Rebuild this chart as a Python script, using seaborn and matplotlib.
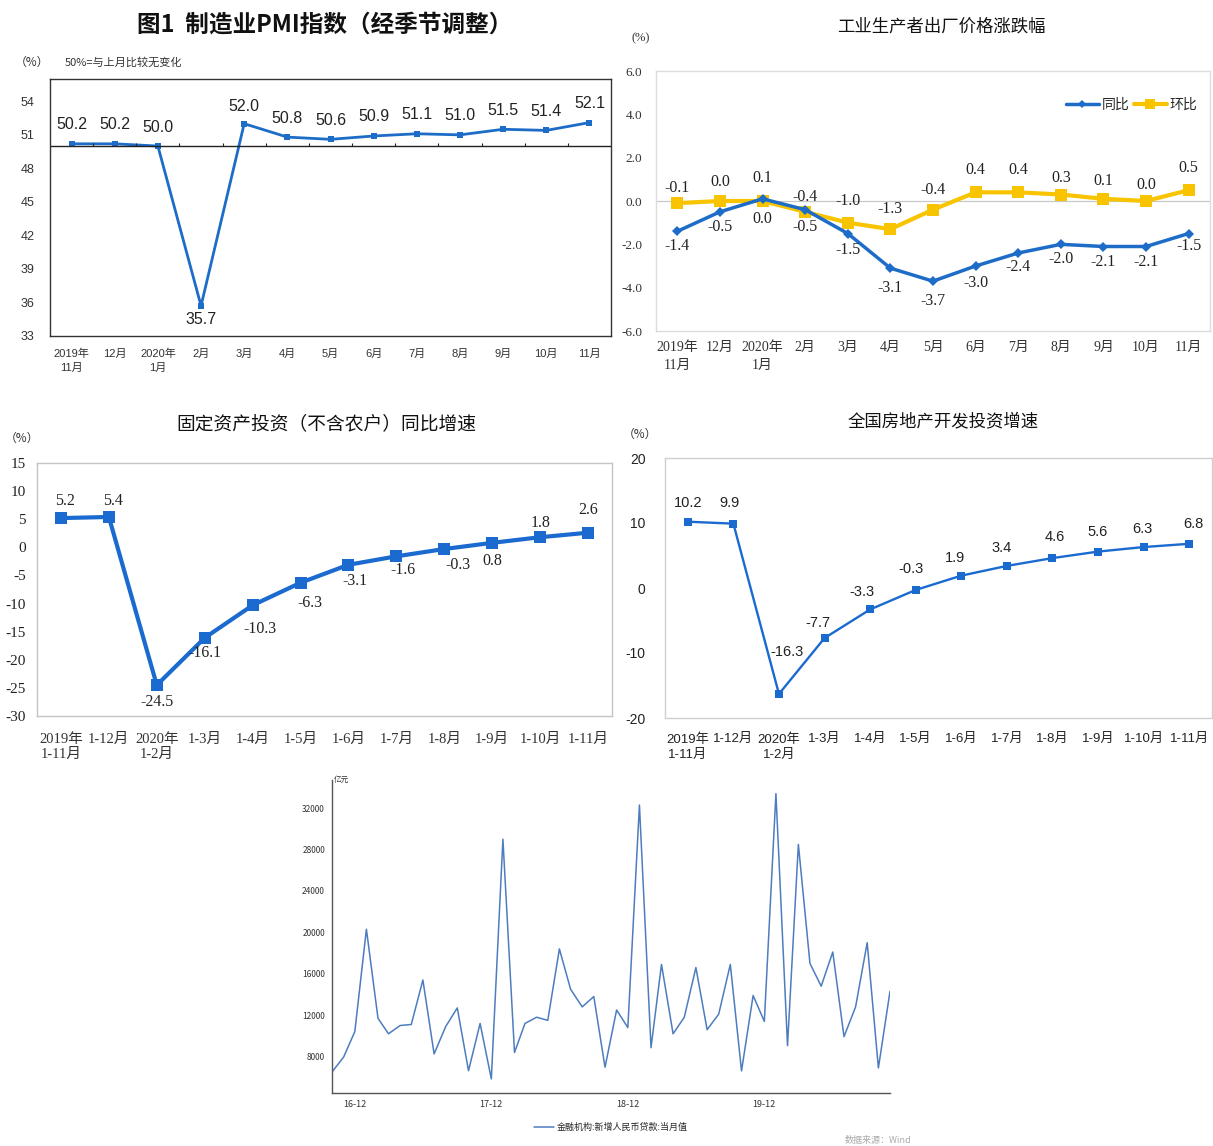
import numpy as np
import pandas as pd
import matplotlib
matplotlib.use("Agg")
import matplotlib.pyplot as plt
import matplotlib.dates as mdates
from matplotlib.lines import Line2D
from matplotlib.ticker import FixedLocator, FuncFormatter
import seaborn as sns

# ---------------- data ----------------
pmi_months = ["2019年\n11月", "12月", "2020年\n1月", "2月", "3月", "4月", "5月",
              "6月", "7月", "8月", "9月", "10月", "11月"]
pmi_values = [50.2, 50.2, 50.0, 35.7, 52.0, 50.8, 50.6, 50.9, 51.1, 51.0, 51.5, 51.4, 52.1]

ppi_months = ["2019年\n11月", "12月", "2020年\n1月", "2月", "3月", "4月", "5月",
              "6月", "7月", "8月", "9月", "10月", "11月"]
ppi_yoy = [-1.4, -0.5, 0.1, -0.4, -1.5, -3.1, -3.7, -3.0, -2.4, -2.0, -2.1, -2.1, -1.5]
ppi_mom = [-0.1, 0.0, 0.0, -0.5, -1.0, -1.3, -0.4, 0.4, 0.4, 0.3, 0.1, 0.0, 0.5]

fai_periods = ["2019年\n1-11月", "1-12月", "2020年\n1-2月", "1-3月", "1-4月", "1-5月",
               "1-6月", "1-7月", "1-8月", "1-9月", "1-10月", "1-11月"]
fai_values = [5.2, 5.4, -24.5, -16.1, -10.3, -6.3, -3.1, -1.6, -0.3, 0.8, 1.8, 2.6]

re_periods = ["2019年\n1-11月", "1-12月", "2020年\n1-2月", "1-3月", "1-4月", "1-5月",
              "1-6月", "1-7月", "1-8月", "1-9月", "1-10月", "1-11月"]
re_values = [10.2, 9.9, -16.3, -7.7, -3.3, -0.3, 1.9, 3.4, 4.6, 5.6, 6.3, 6.8]

loan_start = "2016-10-01"
loan_values = [6513, 7946, 10406, 20300, 11700, 10200, 11000, 11100, 15400, 8255,
               10900, 12700, 6632, 11200, 5844, 29000, 8393, 11200, 11800, 11500,
               18400, 14500, 12800, 13800, 6970, 12500, 10800, 32300, 8858, 16900,
               10200, 11800, 16600, 10600, 12100, 16900, 6613, 13900, 11400, 33400,
               9057, 28500, 17000, 14800, 18100, 9927, 12800, 19000, 6898, 14300]

# ---------------- style ----------------
sns.set_theme(style="white")
CJK = "Noto Sans CJK SC"
SANS = ["Liberation Sans", CJK]
SERIF = ["Liberation Serif", CJK]
plt.rcParams["font.family"] = [CJK, "DejaVu Sans"]
plt.rcParams["axes.unicode_minus"] = False

W, H = 1213, 1146
fig = plt.figure(figsize=(W / 100, H / 100), dpi=100)
fig.patch.set_facecolor("white")


def box(l, t, r, b):
    return [l / W, 1 - b / H, (r - l) / W, (b - t) / H]


def ftext(x, y, s, **kw):
    fig.text(x / W, 1 - y / H, s, **kw)


def label_points(ax, xs, ys, offsets, family, size, color="#222222"):
    # offsets are (dx, dy) in pixels, dy > 0 places the label above the point
    for xi, yi, (dx, dy) in zip(xs, ys, offsets):
        ax.annotate(f"{yi:.1f}", (xi, yi), xytext=(dx, dy), textcoords="offset pixels",
                    ha="center", va="center", fontsize=size, family=family, color=color)


BLUE = "#1c6cc8"
YELLOW = "#f8c400"

# ======== Panel 1: manufacturing PMI ========
ax1 = fig.add_axes(box(50, 79, 611, 336))
pmi_df = pd.DataFrame({"pos": np.arange(len(pmi_values)), "value": pmi_values})
sns.lineplot(data=pmi_df, x="pos", y="value", ax=ax1, color=BLUE, lw=2,
             marker="s", markersize=5, markeredgewidth=0)
ax1.set_xlim(-0.5, len(pmi_values) - 0.5)
ax1.set_ylim(33, 56)
ax1.set_yticks([33, 36, 39, 42, 45, 48, 51, 54])
ax1.set_xticks(pmi_df["pos"])
ax1.set_xticklabels(pmi_months, family=SANS, fontsize=8, color="#333333",
                    linespacing=1.45)
ax1.tick_params(axis="x", length=0, pad=9)
ax1.tick_params(axis="y", length=3, width=0.8, color="#333333", direction="out",
                labelsize=9, labelcolor="#333333", pad=8)
for t in ax1.get_yticklabels():
    t.set_family(SANS)
ax1.axhline(50, color="#222222", lw=1)
ax1.vlines(np.arange(0.5, len(pmi_values) - 0.5, 1), 50, 50.3, color="#222222", lw=0.8)
for s in ax1.spines.values():
    s.set_color("#333333")
    s.set_linewidth(1)
ax1.set_xlabel("")
ax1.set_ylabel("")
pmi_offsets = [(0, 19)] * 3 + [(0, -14)] + [(0, 17)] + [(0, 19)] * 8
label_points(ax1, pmi_df["pos"], pmi_values, pmi_offsets, SANS, 11.5)
ftext(325, 25, "图1  制造业PMI指数（经季节调整）", ha="center", va="center",
      fontsize=17, fontweight="bold", color="#111111")
ftext(32, 62, "（%）", ha="center", va="center", fontsize=8.5, color="#333333")
ftext(65, 62, "50%=与上月比较无变化", ha="left", va="center", fontsize=8, color="#333333")

# ======== Panel 2: PPI ========
ax2 = fig.add_axes(box(656, 71, 1210, 331))
pos2 = np.arange(len(ppi_yoy))
ppi_df = pd.DataFrame({"pos": np.concatenate([pos2, pos2]),
                       "value": ppi_yoy + ppi_mom,
                       "series": ["同比"] * len(ppi_yoy) + ["环比"] * len(ppi_mom)})
ax2.axhline(0, color="#c8c8c8", lw=0.9)
sns.lineplot(data=ppi_df[ppi_df.series == "环比"], x="pos", y="value", ax=ax2,
             color=YELLOW, lw=3, marker="s", markersize=8.5, markeredgewidth=0, legend=False)
sns.lineplot(data=ppi_df[ppi_df.series == "同比"], x="pos", y="value", ax=ax2,
             color=BLUE, lw=2.5, marker="D", markersize=5, markeredgewidth=0, legend=False)
ax2.set_xlim(-0.5, len(ppi_yoy) - 0.5)
ax2.set_ylim(-6, 6)
ax2.set_yticks([-6, -4, -2, 0, 2, 4, 6])
ax2.yaxis.set_major_formatter(FuncFormatter(lambda v, p: f"{v:.1f}"))
ax2.set_xticks(pos2)
ax2.set_xticklabels(ppi_months, family=SERIF, fontsize=10, color="#333333",
                    linespacing=1.55)
ax2.tick_params(axis="x", length=0, pad=7)
ax2.tick_params(axis="y", length=0, labelsize=9.5, labelcolor="#333333", pad=10)
for t in ax2.get_yticklabels():
    t.set_family(SERIF)
for s in ax2.spines.values():
    s.set_color("#dcdcdc")
    s.set_linewidth(1)
ax2.set_xlabel("")
ax2.set_ylabel("")
yoy_offsets = [(0, -15), (0, -15), (0, 21), (0, 13), (0, -16), (0, -20), (0, -20),
               (0, -17), (0, -14), (0, -15), (0, -15), (0, -16), (0, -13)]
mom_offsets = [(0, 15), (0, 19), (0, -18), (0, -15), (0, 22), (0, 20), (0, 20),
               (0, 22), (0, 22), (0, 17), (0, 18), (0, 16), (0, 22)]
label_points(ax2, pos2, ppi_yoy, yoy_offsets, SERIF, 11.5)
label_points(ax2, pos2, ppi_mom, mom_offsets, SERIF, 11.5)
handles = [Line2D([], [], color=BLUE, lw=2.5, marker="D", markersize=4, markeredgewidth=0),
           Line2D([], [], color=YELLOW, lw=3, marker="s", markersize=7, markeredgewidth=0)]
ax2.legend(handles, ["同比", "环比"], loc="upper right", bbox_to_anchor=(1.0, 0.945),
           ncol=2, frameon=False, handlelength=2.4, handletextpad=0.2,
           columnspacing=0.3, prop={"family": CJK, "size": 10})
ftext(941, 27, "工业生产者出厂价格涨跌幅", ha="center", va="center", fontsize=12.5,
      color="#111111")
ftext(641, 38, "(%)", ha="center", va="center", fontsize=9, family=SERIF, color="#333333")

# ======== Panel 3: fixed-asset investment ========
ax3 = fig.add_axes(box(37, 463, 612, 716))
fai_df = pd.DataFrame({"pos": np.arange(len(fai_values)), "value": fai_values})
sns.lineplot(data=fai_df, x="pos", y="value", ax=ax3, color="#1a6ad0", lw=3,
             marker="s", markersize=8, markeredgewidth=0)
ax3.set_xlim(-0.5, len(fai_values) - 0.5)
ax3.set_ylim(-30, 15)
ax3.set_yticks(range(-30, 16, 5))
ax3.set_xticks(fai_df["pos"])
ax3.set_xticklabels(fai_periods, family=SERIF, fontsize=10.5, color="#333333",
                    linespacing=1.2)
ax3.xaxis.set_minor_locator(FixedLocator(np.arange(0.5, len(fai_values) - 0.5, 1)))
ax3.tick_params(axis="x", which="major", length=0, pad=12)
ax3.tick_params(axis="x", which="minor", length=5, width=0.8, color="#bfbfbf", direction="in")
ax3.tick_params(axis="y", length=4, width=0.8, color="#bfbfbf", direction="out",
                labelsize=11, labelcolor="#222222", pad=4)
for t in ax3.get_yticklabels():
    t.set_family(SERIF)
for s in ax3.spines.values():
    s.set_color("#c4c4c4")
    s.set_linewidth(1)
ax3.set_xlabel("")
ax3.set_ylabel("")
fai_offsets = [(4, 17), (4, 16), (0, -17), (0, -15), (7, -24), (9, -20), (6, -16),
               (7, -14), (14, -16), (0, -18), (0, 14), (0, 23)]
label_points(ax3, fai_df["pos"], fai_values, fai_offsets, SERIF, 11.5)
ftext(326, 424, "固定资产投资（不含农户）同比增速", ha="center", va="center",
      fontsize=13.5, color="#111111")
ftext(22, 438, "（%）", ha="center", va="center", fontsize=8.5, color="#333333")

# ======== Panel 4: real-estate investment ========
ax4 = fig.add_axes(box(665, 458, 1212, 718))
re_df = pd.DataFrame({"pos": np.arange(len(re_values)), "value": re_values})
sns.lineplot(data=re_df, x="pos", y="value", ax=ax4, color="#1a6ad0", lw=1.7,
             marker="s", markersize=5.5, markeredgewidth=0)
ax4.set_xlim(-0.5, len(re_values) - 0.5)
ax4.set_ylim(-20, 20)
ax4.set_yticks([-20, -10, 0, 10, 20])
ax4.set_xticks(re_df["pos"])
ax4.set_xticklabels(re_periods, family=SANS, fontsize=9.5, color="#222222",
                    linespacing=1.35)
ax4.xaxis.set_minor_locator(FixedLocator(np.arange(0.5, len(re_values) - 0.5, 1)))
ax4.tick_params(axis="x", which="major", length=0, pad=11)
ax4.tick_params(axis="x", which="minor", length=4, width=0.8, color="#bfbfbf", direction="in")
ax4.tick_params(axis="y", length=0, labelsize=10, labelcolor="#222222", pad=14)
for t in ax4.get_yticklabels():
    t.set_family(SANS)
for s in ax4.spines.values():
    s.set_color("#cfcfcf")
    s.set_linewidth(1)
ax4.set_xlabel("")
ax4.set_ylabel("")
re_offsets = [(0, 19), (-4, 21), (8, 42), (-7, 15), (-8, 17), (-5, 21), (-6, 18),
              (-5, 18), (2, 21), (0, 20), (-1, 18), (4, 20)]
label_points(ax4, re_df["pos"], re_values, re_offsets, SANS, 10.5)
ftext(943, 421, "全国房地产开发投资增速", ha="center", va="center", fontsize=12.5,
      color="#111111")
ftext(640, 434, "（%）", ha="center", va="center", fontsize=8.5, color="#333333")

# ======== Panel 5: new RMB loans ========
ax5 = fig.add_axes(box(332, 780, 890, 1093))
loan_df = pd.DataFrame({"month": pd.date_range(loan_start, periods=len(loan_values), freq="MS"),
                        "value": loan_values})
sns.lineplot(data=loan_df, x="month", y="value", ax=ax5, color="#4d7cbf", lw=1.1,
             label="金融机构:新增人民币贷款:当月值")
ax5.set_xlim(loan_df["month"].iloc[0], loan_df["month"].iloc[-1])
ax5.set_ylim(4480, 34720)
ax5.set_yticks(range(8000, 32001, 4000))
ax5.xaxis.set_major_locator(mdates.MonthLocator(bymonth=12))
ax5.xaxis.set_major_formatter(mdates.DateFormatter("%y-%m"))
ax5.xaxis.set_minor_locator(mdates.MonthLocator(bymonth=[3, 6, 9]))
ax5.tick_params(axis="x", which="major", length=6, width=0.8, color="#555555",
                direction="inout", labelsize=6.5, labelcolor="#333333", pad=2)
ax5.tick_params(axis="x", which="minor", length=3, width=0.8, color="#555555", direction="in")
ax5.tick_params(axis="y", length=4, width=0.8, color="#555555", direction="out",
                labelsize=6, labelcolor="#333333", pad=1)
for side in ("top", "right"):
    ax5.spines[side].set_visible(False)
for side in ("left", "bottom"):
    ax5.spines[side].set_color("#555555")
    ax5.spines[side].set_linewidth(1)
ax5.set_xlabel("")
ax5.set_ylabel("")
ax5.legend(loc="upper center", bbox_to_anchor=(0.5, -0.07), frameon=False,
           handlelength=2.2, handletextpad=0.3, prop={"family": CJK, "size": 6.5})
ax5.text(0.004, 1.0, "亿元", transform=ax5.transAxes, ha="left", va="center",
         fontsize=5.5, color="#333333")
ftext(878, 1140, "数据来源：Wind", ha="center", va="center", fontsize=6.5, color="#aaaaaa")

fig.savefig("out.png", dpi=100, facecolor="white")
